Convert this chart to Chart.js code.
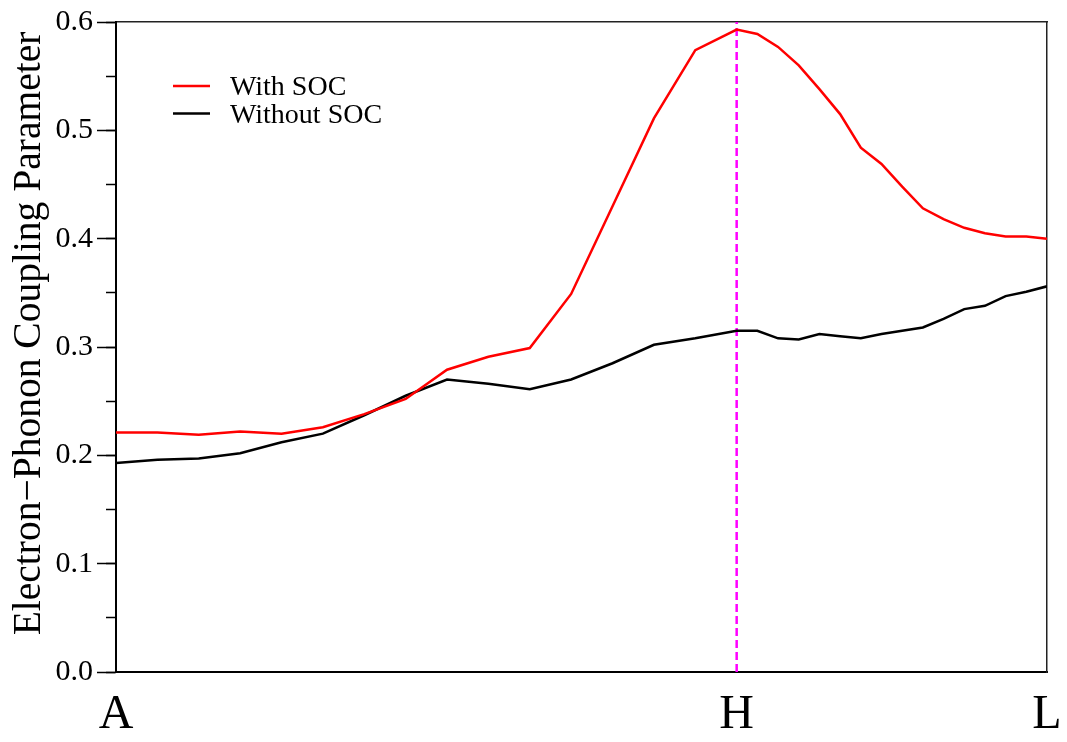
<!DOCTYPE html>
<html>
<head>
<meta charset="utf-8">
<script src="https://cdn.jsdelivr.net/npm/chart.js@4.4.1/dist/chart.umd.min.js"></script>
<style>
html,body{margin:0;padding:0;background:#fff;}
#wrap{position:relative;width:1067px;height:742px;}
</style>
</head>
<body>
<div id="wrap"><canvas id="c"></canvas></div>
<script>
// k-path distance of each sampled point (A -> H -> L)
const kDist = [0,2,4,6,8,10,12,14,16,18,20,22,24,26,28,30,31,32,33,34,35,36,37,38,39,40,41,42,43,44,45];
const withSOC = [0.221,0.221,0.219,0.222,0.220,0.226,0.238,0.252,0.279,0.291,0.299,0.349,0.430,0.511,0.574,0.593,
                 0.589,0.577,0.560,0.538,0.515,0.484,0.469,0.448,0.428,0.418,0.410,0.405,0.402,0.402,0.400];
const withoutSOC = [0.193,0.196,0.197,0.202,0.212,0.220,0.237,0.255,0.270,0.266,0.261,0.270,0.285,0.302,0.308,0.315,
                    0.315,0.308,0.307,0.312,0.310,0.308,0.312,0.315,0.318,0.326,0.335,0.338,0.347,0.351,0.356];
const symPos = [0,30,45];
const symLabels = ['A','H','L'];
const hMarker = [{x:30,y:0},{x:30,y:0.6}];
const seriesNames = ['With SOC','Without SOC'];
const yTitle = 'Electron\u2212Phonon Coupling Parameter';

const FONT = "'Liberation Serif','Times New Roman',Times,serif";

const innerLegend = {
  id:'innerLegend',
  afterDraw(chart){
    const ctx = chart.ctx;
    ctx.save();
    [0,1].forEach(i=>{
      const ds = chart.data.datasets[i];
      const ly = 86 + 27.5*i;
      ctx.strokeStyle = ds.borderColor;
      ctx.lineWidth = 2.5;
      ctx.beginPath(); ctx.moveTo(173, ly); ctx.lineTo(210, ly); ctx.stroke();
      ctx.fillStyle = '#000';
      ctx.font = "28px " + FONT;
      ctx.textBaseline = 'alphabetic';
      ctx.textAlign = 'left';
      ctx.fillText(ds.label, 230, 95 + 27.7*i);
    });
    // y-axis title
    ctx.translate(40, 333.5);
    ctx.rotate(-Math.PI/2);
    ctx.font = "39.5px " + FONT;
    ctx.textAlign = 'center';
    ctx.textBaseline = 'alphabetic';
    ctx.fillText(yTitle, 0, 0);
    ctx.restore();
  }
};

new Chart(document.getElementById('c'), {
  type:'line',
  data:{
    datasets:[
      {label:seriesNames[0], data:kDist.map((x,i)=>({x:x,y:withSOC[i]})), borderColor:'#ff0000', borderWidth:2.5, pointRadius:0, tension:0, fill:false},
      {label:seriesNames[1], data:kDist.map((x,i)=>({x:x,y:withoutSOC[i]})), borderColor:'#000000', borderWidth:2.5, pointRadius:0, tension:0, fill:false},
      {label:'H', data:hMarker, borderColor:'#ff00ff', borderWidth:2.5, borderDash:[8,4], pointRadius:0, fill:false}
    ]
  },
  options:{
    responsive:true, maintainAspectRatio:false, animation:false,
    layout:{padding:{left:0,top:21,right:20,bottom:0}},
    plugins:{legend:{display:false}, tooltip:{enabled:false}},
    scales:{
      x:{
        type:'linear', position:'bottom', min:0, max:45,
        grid:{display:false, drawTicks:false},
        border:{display:true, color:'#000', width:2},
        ticks:{font:{family:FONT,size:48}, color:'#000', padding:15, maxRotation:0, autoSkip:false,
               callback:(v,i)=>symLabels[i]},
        afterBuildTicks:s=>{ s.ticks = symPos.map(v=>({value:v})); },
        afterFit:s=>{ s.height = 70; s.paddingLeft = 0; s.paddingRight = 0; }
      },
      xTop:{
        type:'linear', position:'top', min:0, max:45,
        grid:{display:false, drawTicks:false},
        border:{display:true, color:'#222', width:1.5},
        ticks:{display:false},
        afterFit:s=>{ s.height = 0; s.paddingLeft = 0; s.paddingRight = 0; }
      },
      y:{
        type:'linear', position:'left', min:0, max:0.6, weight:1,
        grid:{drawOnChartArea:false, drawTicks:true, tickLength:19, tickColor:'#000', tickWidth:1.5},
        border:{display:true, color:'#000', width:2},
        ticks:{stepSize:0.1, font:{family:FONT,size:30}, color:'#000', padding:4,
               callback:v=>Number(v).toFixed(1)},
        title:{display:false},
        afterFit:s=>{ s.width = 116; }
      },
      yMinor:{
        type:'linear', position:'left', min:0, max:0.6, weight:0,
        grid:{drawOnChartArea:false, drawTicks:true, tickLength:10, tickColor:'#000', tickWidth:1.5},
        border:{display:false},
        ticks:{stepSize:0.05, display:false},
        afterFit:s=>{ s.width = 0; }
      },
      yRight:{
        type:'linear', position:'right', min:0, max:0.6,
        grid:{display:false, drawTicks:false},
        border:{display:true, color:'#222', width:1.5},
        ticks:{display:false},
        afterFit:s=>{ s.width = 0; }
      }
    }
  },
  plugins:[innerLegend]
});
</script>
</body>
</html>
